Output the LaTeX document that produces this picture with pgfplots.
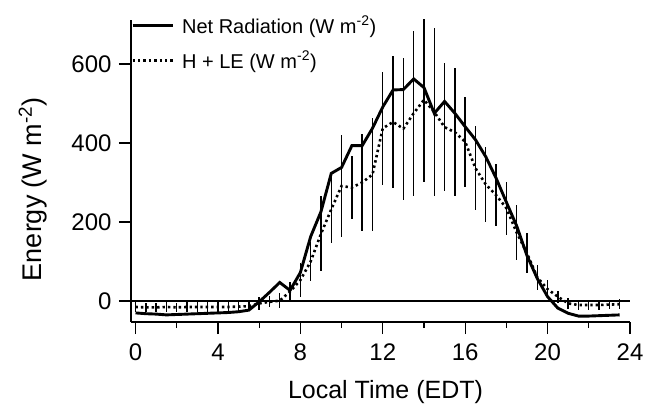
\documentclass[border=0pt]{standalone}
\usepackage{fontspec}
\setmainfont{Liberation Sans}
\usepackage{pgfplots}
\pgfplotsset{compat=1.18}
\usepackage{pgfplotstable}

\pgfplotstableread{
h rn hle err
0 -30 -15 12
0.5 -32 -16 12
1 -33 -16 12
1.5 -35 -15 12
2 -34 -16 12
2.5 -33 -15 12
3 -32 -15 12
3.5 -31 -15 12
4 -30 -15 12
4.5 -29 -15 12
5 -27 -14 12
5.5 -23 -13 12
6 -2 -6 17
6.5 22 -2 14
7 47 1 19
7.5 27 24 25
8 72 53 43
8.5 163 100 50
9 226 170 95
9.5 323 232 85
10 338 291 130
10.5 393 287 80
11 393 300 122
11.5 437 320 143
12 491 437 143
12.5 534 453 167
13 535 436 180
13.5 562 475 209
14 540 509 207
14.5 475 478 213
15 505 440 162
15.5 475 427 162
16 441 403 114
16.5 408 336 106
17 365 295 95
17.5 311 268 78
18 250 235 67
18.5 190 173 70
19 115 121 50
19.5 57 60 32
20 11 30 22
20.5 -18 11 15
21 -31 -6 14
21.5 -38 -10 12
22 -38 -10 12
22.5 -37 -10 12
23 -36 -9 12
23.5 -35 -8 12
}\data

\begin{document}
\begin{tikzpicture}
\begin{axis}[
  scale only axis, width=499pt, height=302pt,
  xmin=-0.22, xmax=24, ymin=-53, ymax=711,
  axis lines=left, axis line style={-, line width=1.3pt},
  tick align=outside, major tick length=12pt, minor tick length=6pt,
  tick style={line width=1.3pt, black},
  xtick={0,4,...,24}, minor xtick={2,6,...,22}, ytick={0,200,400,600},
  /pgf/number format/assume math mode=true,
  tick label style={font=\fontsize{24}{28}\selectfont},
  xticklabel style={yshift=-6pt},
  yticklabel style={xshift=-4pt},
  xlabel={Local Time (EDT)}, ylabel={Energy (W m\textsuperscript{-2})},
  xlabel style={font=\fontsize{25}{29}\selectfont, at={(axis description cs:0.51,0)}, anchor=base, yshift=-76pt},
  ylabel style={font=\fontsize{27}{31}\selectfont, at={(axis description cs:-0.197,0.44)}, anchor=center, rotate=0},
  legend style={at={(axis description cs:0,1)}, anchor=north west, draw=none, fill=none, inner sep=0pt,
    font=\fontsize{20}{24}\selectfont, row sep=12pt, xshift=0pt, yshift=6pt},
  legend cell align=left,
  legend image code/.code={\draw[#1] (0pt,0pt) -- (40pt,0pt); \path (46pt,0pt);},
]
\coordinate (SW) at (rel axis cs:0,0);
\addplot[forget plot, black, line width=1.3pt] coordinates {(-0.22,0) (24,0)};
\addplot[black, line width=2.9pt, no markers] table[x=h, y=rn] {\data};
\addlegendentry{Net Radiation (W m\textsuperscript{-2})}
\addplot[black, line width=2.6pt, no markers, dash pattern=on 2.4pt off 3pt,
  error bars/.cd, y dir=both, y explicit, error mark=none,
  error bar style={solid, line width=1.4pt, black}]
  table[x=h, y=hle, y error=err] {\data};
\addlegendentry{H + LE (W m\textsuperscript{-2})}
\end{axis}
\path ([xshift=-131pt,yshift=-81pt]SW) rectangle ++(647pt,403pt);
\end{tikzpicture}
\end{document}
